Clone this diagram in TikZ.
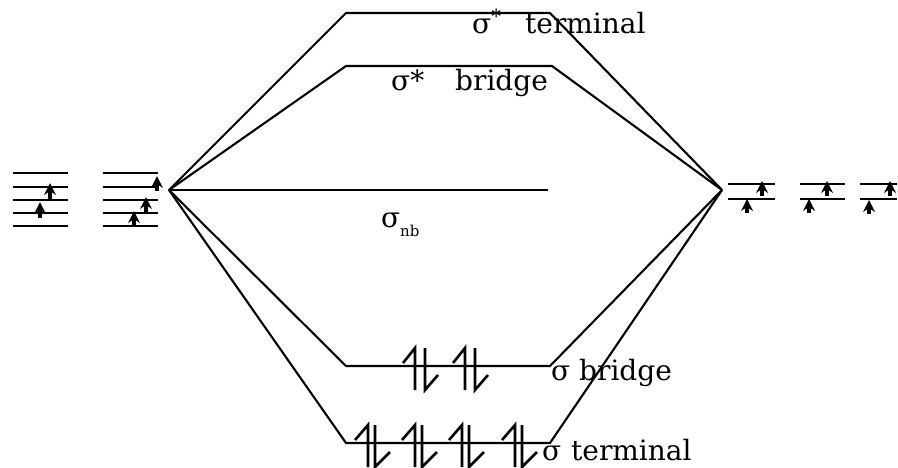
\documentclass[tikz,border=0pt]{standalone}
\usepackage{fontspec}
\setmainfont{DejaVu Serif}
\usetikzlibrary{arrows.meta}
\newcommand\myspinup[3]{%
  \draw[shaft] (#1,#2+6) -- (#1,#3);
  \fill (#1,#2-1) -- (#1-6,#2+11) -- (#1,#2+7) -- (#1+6,#2+11) -- cycle;}
\begin{document}
\begin{tikzpicture}[x=1pt,y=-1pt,
  mo/.style={line width=2.1pt, line join=miter},
  ao/.style={line width=2.6pt},
  shaft/.style={line width=3.2pt},
  lbl/.style={inner sep=0pt, anchor=base west, font=\fontsize{28}{31}\selectfont},
  sub/.style={inner sep=0pt, anchor=base west, font=\fontsize{15}{17}\selectfont},
  pairline/.style={line width=2.6pt},
  ebr/.pic={\draw[pairline] (-12,15) -- (0,0) -- (0,42);
            \draw[pairline] (10,0) -- (10,42) -- (23,27);},
  ete/.pic={\draw[pairline] (-13,15) -- (0,0) -- (0,42);
            \draw[pairline] (7,0) -- (7,42) -- (22,27);}]
\useasboundingbox (0,0) rectangle (898,467);
% converging points
\coordinate (L) at (169,190);
\coordinate (R) at (722,190);
% molecular orbital levels
\coordinate (stA) at (346,13);  \coordinate (stB) at (550,13);
\coordinate (sbA) at (346,66);  \coordinate (sbB) at (552,66);
\coordinate (nbB) at (548,190);
\coordinate (bA) at (346,366);  \coordinate (bB) at (550,366);
\coordinate (tA) at (346,443);  \coordinate (tB) at (550,443);
\draw[mo] (L) -- (stA) -- (stB) -- (R);
\draw[mo] (L) -- (sbA) -- (sbB) -- (R);
\draw[mo] (L) -- (nbB);
\draw[mo] (L) -- (bA) -- (bB) -- (R);
\draw[mo] (L) -- (tA) -- (tB) -- (R);
% labels
\node[lbl] (lst1) at (472,33) {σ\textsuperscript{*}};
\node[lbl] (lst2) at (525,33) {terminal};
\node[lbl] (lsb1) at (391,90) {σ*};
\node[lbl] (lsb2) at (455,90) {bridge};
\node[lbl] (lnb1) at (381,227) {σ};
\node[sub] (lnb2) at (400,236) {nb};
\node[lbl] (lb1) at (551,380) {σ};
\node[lbl] (lb2) at (579,380) {bridge};
\node[lbl] (lt1) at (542,460) {σ};
\node[lbl] (lt2) at (571,460) {terminal};
% electron pairs
\pic at (415,348) {ebr};
\pic at (465,348) {ebr};
\pic at (368,425) {ete};
\pic at (415,425) {ete};
\pic at (462,425) {ete};
\pic at (515,425) {ete};
% left atom group 1
\foreach \y in {173,187,200,213,226} \draw[ao] (13,\y) -- (68,\y);
\myspinup{50}{184}{199}
\myspinup{40}{203}{218}
% left atom group 2
\foreach \y in {173,187,200,213,226} \draw[ao] (103,\y) -- (158,\y);
\myspinup{157}{177}{191}
\myspinup{146}{198}{213}
\myspinup{134}{212}{227}
% right atom groups
\foreach \xa/\xb in {728/775,800/845,860/897} {
  \draw[ao] (\xa,184) -- (\xb,184);
  \draw[ao] (\xa,199) -- (\xb,199);
}
\myspinup{762}{182}{196}
\myspinup{747}{200}{213}
\myspinup{827}{182}{196}
\myspinup{809}{200}{213}
\myspinup{890}{182}{196}
\myspinup{869}{201}{214}
\end{tikzpicture}
\end{document}
